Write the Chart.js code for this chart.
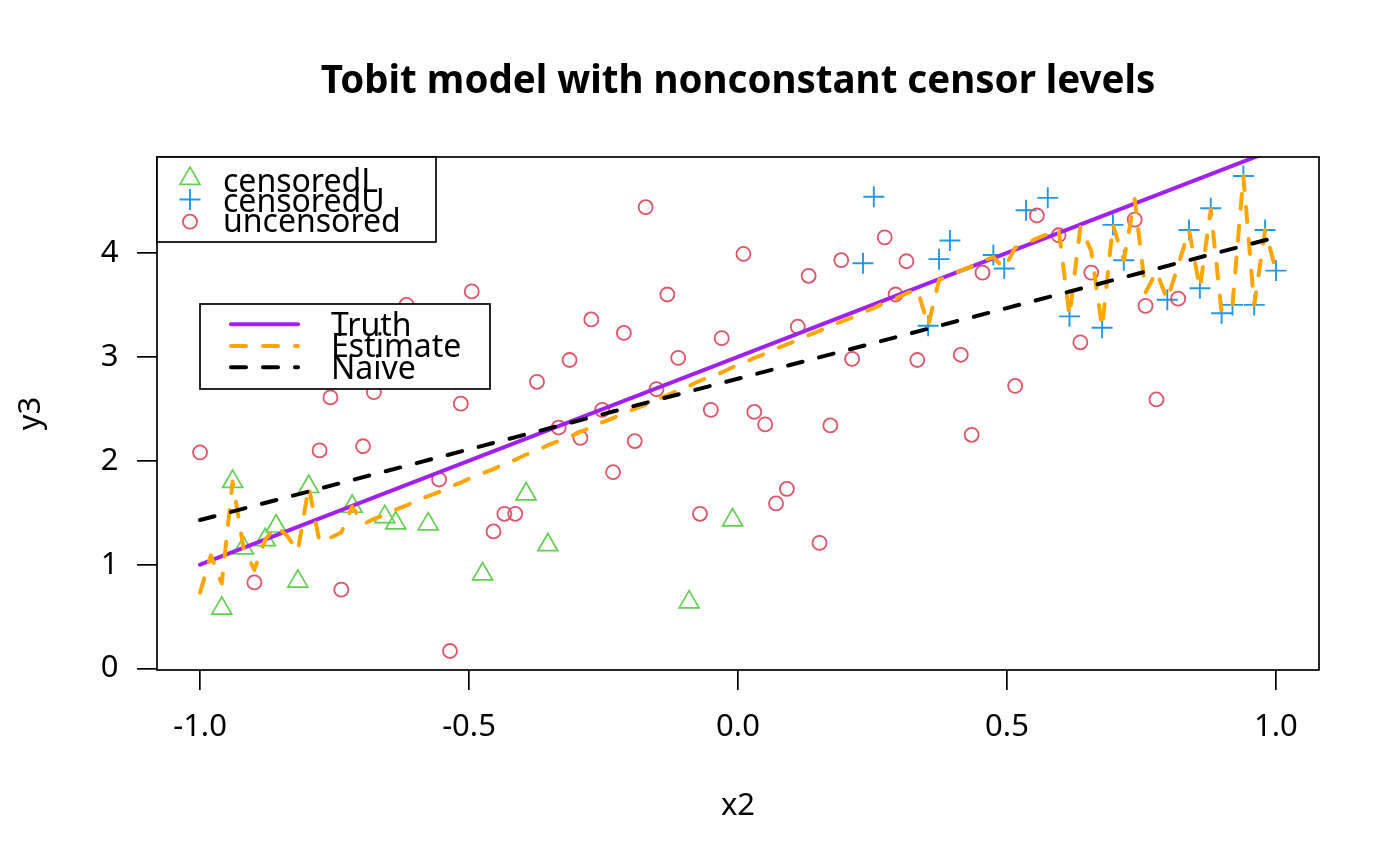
<!DOCTYPE html>
<html>
<head>
<meta charset="utf-8">
<title>Tobit model with nonconstant censor levels</title>
<script src="https://cdn.jsdelivr.net/npm/chart.js@4.4.1/dist/chart.umd.min.js"></script>
<style>
  html, body { margin: 0; padding: 0; background: #fff; }
  #wrap { width: 1400px; height: 866px; }
</style>
</head>
<body>
<div id="wrap"><canvas id="myChart" width="1400" height="866"></canvas></div>
<script>
// x2 = seq(-1, 1, length = 100)
const x2 = [
  -1.0000, -0.9798, -0.9596, -0.9394, -0.9192, -0.8990, -0.8788, -0.8586, -0.8384, -0.8182,
  -0.7980, -0.7778, -0.7576, -0.7374, -0.7172, -0.6970, -0.6768, -0.6566, -0.6364, -0.6162,
  -0.5960, -0.5758, -0.5556, -0.5354, -0.5152, -0.4949, -0.4747, -0.4545, -0.4343, -0.4141,
  -0.3939, -0.3737, -0.3535, -0.3333, -0.3131, -0.2929, -0.2727, -0.2525, -0.2323, -0.2121,
  -0.1919, -0.1717, -0.1515, -0.1313, -0.1111, -0.0909, -0.0707, -0.0505, -0.0303, -0.0101,
   0.0101,  0.0303,  0.0505,  0.0707,  0.0909,  0.1111,  0.1313,  0.1515,  0.1717,  0.1919,
   0.2121,  0.2323,  0.2525,  0.2727,  0.2929,  0.3131,  0.3333,  0.3535,  0.3737,  0.3939,
   0.4141,  0.4343,  0.4545,  0.4747,  0.4949,  0.5152,  0.5354,  0.5556,  0.5758,  0.5960,
   0.6162,  0.6364,  0.6566,  0.6768,  0.6970,  0.7172,  0.7374,  0.7576,  0.7778,  0.7980,
   0.8182,  0.8384,  0.8586,  0.8788,  0.8990,  0.9192,  0.9394,  0.9596,  0.9798,  1.0000
];

// observed y3 (null = marker hidden under a legend box)
const y3 = [
  2.08, null, 0.58, 1.80, 1.16, 0.83, 1.24, 1.37, null, 0.84,
  1.75, 2.10, 2.61, 0.76, 1.56, 2.14, 2.66, 1.46, 1.40, 3.50,
  null, 1.39, 1.82, 0.17, 2.55, 3.63, 0.91, 1.32, 1.49, 1.49,
  1.68, 2.76, 1.19, 2.32, 2.97, 2.22, 3.36, 2.49, 1.89, 3.23,
  2.19, 4.44, 2.69, 3.60, 2.99, 0.64, 1.49, 2.49, 3.18, 1.43,
  3.99, 2.47, 2.35, 1.59, 1.73, 3.29, 3.78, 1.21, 2.34, 3.93,
  2.98, 3.90, 4.54, 4.15, 3.60, 3.92, 2.97, 3.30, 3.94, 4.12,
  3.02, 2.25, 3.81, 3.98, 3.85, 2.72, 4.41, 4.36, 4.53, 4.17,
  3.39, 3.14, 3.81, 3.28, 4.27, 3.93, 4.32, 3.49, 2.59, 3.55,
  3.56, 4.22, 3.66, 4.43, 3.42, 3.50, 4.74, 3.50, 4.22, 3.83
];

// L = censoredL, U = censoredU, O = uncensored
const status = (
  'OOLLLOLLOL' + 'LOOOLOOLLO' + 'OLOOOOLOOO' + 'LOLOOOOOOO' + 'OOOOOLOOOL' +
  'OOOOOOOOOO' + 'OUUOOOOUUU' + 'OOOUUOUOUO' + 'UOOUUUOOOU' + 'OUUUUUUUUU'
).split('');

// fitted values of the tobit fit, one per x2
const estimate = [
  0.73, 1.09, 0.82, 1.80, 1.16, 0.95, 1.24, 1.37, 1.28, 1.13,
  1.75, 1.22, 1.26, 1.31, 1.56, 1.39, 1.44, 1.48, 1.53, 1.57,
  1.62, 1.66, 1.70, 1.75, 1.79, 1.84, 1.88, 1.92, 1.97, 2.01,
  2.06, 2.10, 2.15, 2.19, 2.23, 2.28, 2.32, 2.37, 2.41, 2.46,
  2.50, 2.54, 2.59, 2.63, 2.68, 2.72, 2.77, 2.81, 2.85, 2.90,
  2.94, 2.99, 3.03, 3.08, 3.12, 3.16, 3.21, 3.25, 3.30, 3.34,
  3.38, 3.43, 3.47, 3.52, 3.56, 3.61, 3.65, 3.30, 3.74, 3.78,
  3.83, 3.87, 3.92, 3.96, 3.85, 4.05, 4.09, 4.14, 4.18, 4.23,
  3.39, 4.25, 4.02, 3.28, 4.27, 3.93, 4.52, 3.62, 3.82, 3.55,
  3.88, 4.22, 3.66, 4.42, 3.42, 3.50, 4.74, 3.50, 4.22, 3.83
];

const lineX = [-1, 1];
const truthY = [1, 5];
const naiveY = [1.43, 4.15];

const xTicks = [-1, -0.5, 0, 0.5, 1];
const yTicks = [0, 1, 2, 3, 4];

const GREEN = '#61D04F', BLUE = '#2297E6', RED = '#DF536B';
const PURPLE = '#A020F0', ORANGE = '#FFA500';
const FONT = '"Noto Sans"';
const DASH = [15, 17];
const LWD = 4;

function pointsOf(code) {
  const out = [];
  for (let i = 0; i < x2.length; i++) {
    if (status[i] === code && y3[i] !== null) out.push({ x: x2[i], y: y3[i] });
  }
  return out;
}

function lineStyle(color, dash, order) {
  return {
    showLine: true, pointRadius: 0, borderWidth: LWD, borderColor: color,
    borderDash: dash, borderCapStyle: 'round', borderJoinStyle: 'round',
    fill: false, tension: 0, order: order
  };
}

// box, title, axis titles and the two legends, drawn like R does
const decor = {
  id: 'decor',
  afterDraw(chart) {
    const { ctx, chartArea: a } = chart;
    ctx.save();
    ctx.strokeStyle = '#000';
    ctx.fillStyle = '#000';
    ctx.lineWidth = 1.7;
    ctx.strokeRect(a.left, a.top, a.right - a.left, a.bottom - a.top);

    const cx = (a.left + a.right) / 2;
    ctx.textAlign = 'center';
    ctx.textBaseline = 'alphabetic';
    ctx.font = 'bold 38.5px ' + FONT;
    ctx.fillText('Tobit model with nonconstant censor levels', cx, 93);
    ctx.font = '31px ' + FONT;
    ctx.fillText('x2', cx, 815);
    ctx.save();
    ctx.translate(40, (a.top + a.bottom) / 2);
    ctx.rotate(-Math.PI / 2);
    ctx.fillText('y3', 0, 0);
    ctx.restore();

    // legend 1: point types
    ctx.fillStyle = '#fff';
    ctx.fillRect(a.left, a.top, 279, 85);
    ctx.strokeRect(a.left, a.top, 279, 85);
    const sx = 190;
    ctx.lineWidth = 1.7;
    ctx.strokeStyle = GREEN;
    ctx.beginPath();
    const r = 11.5, ty = 178.7;
    ctx.moveTo(sx, ty - r);
    ctx.lineTo(sx + r * 0.866, ty + r / 2);
    ctx.lineTo(sx - r * 0.866, ty + r / 2);
    ctx.closePath();
    ctx.stroke();
    ctx.strokeStyle = BLUE;
    ctx.lineWidth = 1.9;
    ctx.beginPath();
    ctx.moveTo(sx - 10.5, 199.5); ctx.lineTo(sx + 10.5, 199.5);
    ctx.moveTo(sx, 189); ctx.lineTo(sx, 210);
    ctx.stroke();
    ctx.strokeStyle = RED;
    ctx.lineWidth = 1.8;
    ctx.beginPath();
    ctx.arc(sx, 221.7, 7, 0, Math.PI * 2);
    ctx.stroke();
    ctx.fillStyle = '#000';
    ctx.textAlign = 'left';
    ctx.font = '32px ' + FONT;
    ctx.fillText('censoredL', 223, 191.5);
    ctx.fillText('censoredU', 223, 212);
    ctx.fillText('uncensored', 223, 232);

    // legend 2: lines
    ctx.fillStyle = '#fff';
    ctx.strokeStyle = '#000';
    ctx.lineWidth = 1.7;
    ctx.fillRect(200, 304, 290, 85);
    ctx.strokeRect(200, 304, 290, 85);
    const rows = [
      ['Truth', PURPLE, [], 324.3, 336],
      ['Estimate', ORANGE, DASH, 346, 357.3],
      ['Naive', '#000', DASH, 367.3, 378.5]
    ];
    ctx.lineCap = 'round';
    rows.forEach(([label, color, dash, ly, by]) => {
      ctx.strokeStyle = color;
      ctx.lineWidth = LWD;
      ctx.setLineDash(dash);
      ctx.beginPath();
      ctx.moveTo(231, ly);
      ctx.lineTo(298, ly);
      ctx.stroke();
      ctx.setLineDash([]);
      ctx.fillStyle = '#000';
      ctx.fillText(label, 331, by);
    });
    ctx.restore();
  }
};

const axisGrid = { drawOnChartArea: false, drawTicks: true, tickLength: 20, color: '#000', lineWidth: 1.7 };

const ctx = document.getElementById('myChart').getContext('2d');
const chart = new Chart(ctx, {
  type: 'scatter',
  data: {
    datasets: [
      Object.assign({ label: 'Naive', data: lineX.map((x, i) => ({ x: x, y: naiveY[i] })) }, lineStyle('#000', DASH, 0)),
      Object.assign({ label: 'Estimate', data: x2.map((x, i) => ({ x: x, y: estimate[i] })) }, lineStyle(ORANGE, DASH, 1)),
      Object.assign({ label: 'Truth', data: lineX.map((x, i) => ({ x: x, y: truthY[i] })) }, lineStyle(PURPLE, [], 2)),
      {
        label: 'uncensored', data: pointsOf('O'), order: 3,
        pointStyle: 'circle', pointRadius: 7, borderWidth: 1.8,
        borderColor: RED, backgroundColor: 'rgba(0,0,0,0)'
      },
      {
        label: 'censoredU', data: pointsOf('U'), order: 4,
        pointStyle: 'cross', pointRadius: 10.5, borderWidth: 1.9,
        borderColor: BLUE, backgroundColor: 'rgba(0,0,0,0)'
      },
      {
        label: 'censoredL', data: pointsOf('L'), order: 5,
        pointStyle: 'triangle', pointRadius: 11.5, borderWidth: 1.7,
        borderColor: GREEN, backgroundColor: 'rgba(0,0,0,0)'
      }
    ]
  },
  options: {
    responsive: false,
    animation: false,
    devicePixelRatio: 1,
    events: [],
    layout: { padding: { top: 157, right: 81, left: 0, bottom: 0 } },
    plugins: {
      legend: { display: false },
      tooltip: { enabled: false },
      title: { display: false }
    },
    scales: {
      x: {
        type: 'linear', min: -1.08, max: 1.08,
        afterFit: (s) => { s.height = 196; },
        afterBuildTicks: (s) => { s.ticks = xTicks.map(v => ({ value: v })); },
        grid: axisGrid,
        border: { display: false },
        ticks: {
          color: '#000', font: { family: FONT, size: 31 }, padding: 19,
          maxRotation: 0, autoSkip: false,
          callback: (v) => Number(v).toFixed(1)
        }
      },
      y: {
        type: 'linear', min: -0.013, max: 4.923,
        afterFit: (s) => { s.width = 157; },
        afterBuildTicks: (s) => { s.ticks = yTicks.map(v => ({ value: v })); },
        grid: axisGrid,
        border: { display: false },
        ticks: {
          color: '#000', font: { family: FONT, size: 31 }, padding: 18.5,
          autoSkip: false,
          callback: (v) => String(v)
        }
      }
    }
  },
  plugins: [decor]
});
</script>
</body>
</html>
